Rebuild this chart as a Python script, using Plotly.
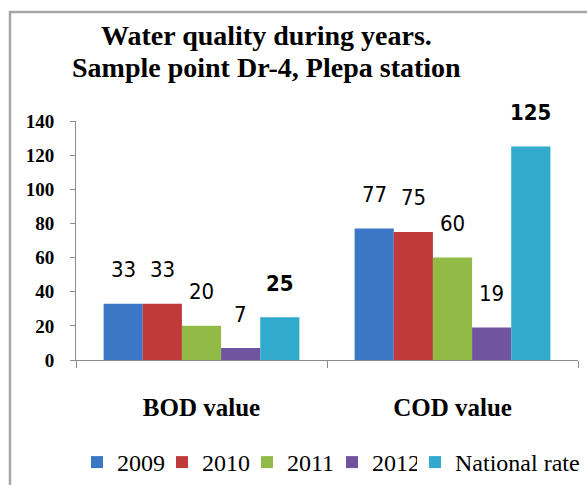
import plotly.graph_objects as go

categories = ["BOD value", "COD value"]
series_names = ["2009", "2010", "2011", "2012", "National rate"]
values_2009 = [33, 77]
values_2010 = [33, 75]
values_2011 = [20, 60]
values_2012 = [7, 19]
values_national = [25, 125]
y_ticks = [0, 20, 40, 60, 80, 100, 120, 140]
title_lines = ["Water quality during years.", "Sample point Dr-4, Plepa station"]

series_values = [values_2009, values_2010, values_2011, values_2012, values_national]
colors = ["#3B77C4", "#C03A39", "#92BA47", "#7154A0", "#31AACD"]

W, H = 587, 485
L, R, T, B = 76, 9, 121, 125
bargap = 0.22
pw = W - L - R
ph = H - T - B


def px_x(x):
    return (x - L) / pw


def px_y(y):
    return 1 + (T - y) / ph


fig = go.Figure()
for name, vals, col in zip(series_names, series_values, colors):
    fig.add_trace(go.Bar(
        x=categories, y=vals, name=name,
        marker=dict(color=col, line=dict(width=0)),
        legend="legend2" if name == "National rate" else "legend",
    ))

# value labels above bars
n = len(series_names)
bw = (1 - bargap) / n
for i, (name, vals) in enumerate(zip(series_names, series_values)):
    off = -(1 - bargap) / 2 + bw * (i + 0.5)
    bold = name == "National rate"
    for ci, v in enumerate(vals):
        fig.add_annotation(
            x=ci + off, y=v, xref="x", yref="y",
            text=str(v),
            showarrow=False, yanchor="middle", yshift=34,
            font=dict(family="Liberation Sans Narrow, DejaVu Sans Condensed, Lato, sans-serif", size=22,
                      color="#000000", weight="bold" if bold else "normal"),
        )

# title (two lines)
for line, yc in zip(title_lines, [35, 68]):
    fig.add_annotation(
        x=px_x(266), y=px_y(yc), xref="paper", yref="paper",
        text=line, showarrow=False, xanchor="center", yanchor="middle",
        font=dict(family="Liberation Serif, serif", size=28, color="#000000", weight="bold"),
    )

# outer grey frame
fig.add_shape(type="rect", xref="paper", yref="paper",
              x0=px_x(10), x1=px_x(W + 5),
              y0=px_y(H + 5), y1=px_y(12),
              line=dict(color="#A6A6A6", width=2.5), fillcolor="rgba(0,0,0,0)", layer="below")

legend_font = dict(family="Liberation Serif, serif", size=24, color="#000000")
fig.update_layout(
    width=W, height=H,
    margin=dict(l=L, r=R, t=T, b=B, autoexpand=False),
    paper_bgcolor="white", plot_bgcolor="white",
    barmode="group", bargap=bargap, bargroupgap=0,
    xaxis=dict(
        showline=True, linecolor="#8C8C8C", linewidth=1,
        ticks="outside", tickson="boundaries", ticklen=7, tickcolor="#8C8C8C",
        tickfont=dict(family="Liberation Serif, serif", size=25, color="#000000", weight="bold"),
        ticklabelstandoff=25,
        showgrid=False, automargin=False,
    ),
    yaxis=dict(
        range=[0, 140], tickvals=y_ticks,
        showline=True, linecolor="#8C8C8C", linewidth=1,
        ticks="outside", ticklen=5, tickcolor="#8C8C8C",
        tickfont=dict(family="Liberation Serif, serif", size=19, color="#000000", weight="bold"),
        ticklabelstandoff=12,
        showgrid=False, zeroline=False, automargin=False,
    ),
    legend=dict(
        orientation="h", xref="paper", yref="paper",
        x=px_x(77), xanchor="left", y=px_y(440), yanchor="top",
        font=legend_font,
        itemwidth=30, entrywidth=40, entrywidthmode="pixels",
        bgcolor="rgba(0,0,0,0)",
    ),
    legend2=dict(
        orientation="h", xref="paper", yref="paper",
        x=px_x(77 + 4 * 85 - 2), xanchor="left", y=px_y(440), yanchor="top",
        font=legend_font,
        itemwidth=30,
        bgcolor="rgba(0,0,0,0)",
    ),
    showlegend=True,
)

fig.write_html("out.html", config={"displayModeBar": False},
               post_script="document.body.style.margin='0';")
